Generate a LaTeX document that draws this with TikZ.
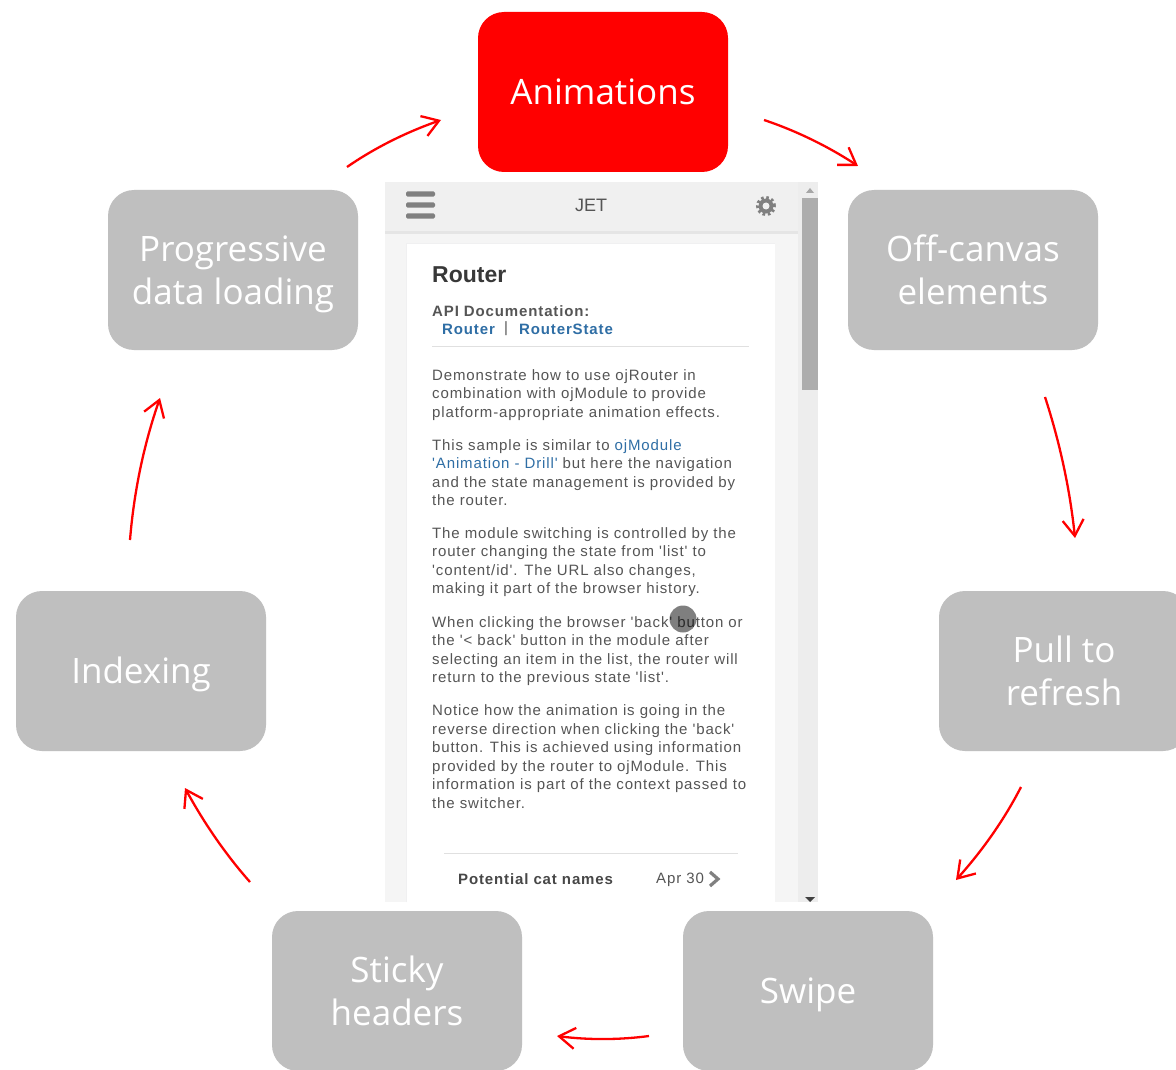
\documentclass[tikz,border=0pt]{standalone}
\usepackage{fontspec}
\setmainfont{Open Sans}
\newfontfamily\shotfont[LetterSpace=5.8]{Liberation Sans}
\newfontfamily\plainshot{Liberation Sans}
\usetikzlibrary{arrows.meta}
\definecolor{boxgrey}{HTML}{BFBFBF}
\definecolor{shottext}{HTML}{555555}
\definecolor{shotlink}{HTML}{2F6EA5}
\newcommand{\padtop}{\rule{0pt}{37pt}}
\newcommand{\padbot}{\rule[-11pt]{0pt}{11pt}}
\tikzset{
  x=1pt,y=-1pt,
  stagebase/.style={rounded corners=26pt,fill=boxgrey,text=white,minimum width=250pt,minimum height=160pt,inner sep=0pt,align=center,font=\fontsize{35}{43.5}\selectfont},
  stage/.style={stagebase,execute at begin node={\rule[-10pt]{0pt}{45pt}},execute at end node={\rule[-10pt]{0pt}{45pt}}},
  stagetwo/.style={stagebase},
  stagered/.style={stage,fill=red},
  flow/.style={draw=red,line width=2.3pt,-{Straight Barb[length=16pt,width=21pt,line width=2.3pt]}},
  para/.style={anchor=north west,inner sep=0pt,align=left,text=shottext,font=\shotfont\fontsize{15}{18.6}\selectfont},
  paralabel/.style={anchor=west,inner sep=0pt,text=shottext,font=\shotfont\fontsize{15}{18}\selectfont},
  shotlabel/.style={paralabel,font=\shotfont\bfseries\fontsize{15}{18}\selectfont},
  shotlinkt/.style={shotlabel,text=shotlink}
}
\begin{document}
\begin{tikzpicture}
\clip (0,0) rectangle (1176,1070);
\fill[white] (0,0) rectangle (1176,1070);
% screenshot
\fill[black!4] (385,182) rectangle (818,902);
\fill[black!6] (385,182) rectangle (798,231);
\fill[black!10] (385,231) rectangle (798,234);
\fill[white] (406,243) rectangle (775,902);
\draw[blue!10!black!6] (406,902) -- (406,243) -- (775,243);
\fill[black!7] (798,182) rectangle (818,902);
\fill[black!32] (802,198) rectangle (818,390);
\fill[black!35] (806,193) -- (810,188) -- (814,193) -- cycle;
\fill[black!75] (805,897) -- (815,897) -- (810,902) -- cycle;
\foreach \yy in {194,205,216} \fill[black!50,rounded corners=1.5pt] (406,\yy-2.7) rectangle (435,\yy+2.7);
\fill[black!50] (766,206) circle (7.5pt);
\draw[black!50,line width=3pt,dash pattern=on 2.6pt off 2.6pt] (766,206) circle (8.5pt);
\fill[black!6] (766,206) circle (3.5pt);
\node[paralabel,anchor=center,font=\plainshot\fontsize{18}{20}\selectfont] (jet) at (591,205) {JET};
\node[shotlabel,font=\plainshot\bfseries\fontsize{23}{24}\selectfont,text=black!78] (routertitle) at (432,275) {Router};
\node[shotlabel] (apidoc) at (432,311) {API Documentation:};
\node[shotlinkt] (routerlink) at (442,329) {Router};
\node[paralabel] (sep) at (504,329) {|};
\node[shotlinkt] (statelink) at (519,329) {RouterState};
\draw[black!12,line width=1.5pt] (432,346.5) -- (749,346.5);
\node[para] (p1) at (432,369) {Demonstrate how to use ojRouter in\\combination with ojModule to provide\\platform-appropriate animation effects.};
\node[para] (p2) at (432,439) {This sample is similar to {\color{shotlink}ojModule}\\{\color{shotlink}'Animation - Drill'} but here the navigation\\and the state management is provided by\\the router.};
\node[para] (p3) at (432,527) {The module switching is controlled by the\\router changing the state from 'list' to\\'content/id'. The URL also changes,\\making it part of the browser history.};
\node[para] (p4) at (432,616) {When clicking the browser 'back' button or\\the '< back' button in the module after\\selecting an item in the list, the router will\\return to the previous state 'list'.};
\node[para] (p5) at (432,704.5) {Notice how the animation is going in the\\reverse direction when clicking the 'back'\\button. This is achieved using information\\provided by the router to ojModule. This\\information is part of the context passed to\\the switcher.};
\fill[black,opacity=.5] (683,619) circle (13.5pt);
\draw[black!12,line width=1.5pt] (444,853.5) -- (738,853.5);
\node[shotlabel,text=black!72] (cat) at (458,879) {Potential cat names};
\node[paralabel] (apr) at (656,880) {Apr 30};
\draw[black!50,line width=3.2pt] (710,872) -- (718,879) -- (710,886);
% stages
\node[stagered] (anim) at (603,92) {Animations};
\node[stagetwo] (off) at (973,270) {\padtop Off-canvas\\elements\padbot};
\node[stagetwo] (pull) at (1064,671) {\padtop Pull to\\refresh\padbot};
\node[stage] (swipe) at (808,991) {Swipe};
\node[stagetwo] (sticky) at (397,991) {\padtop Sticky\\headers\padbot};
\node[stage] (index) at (141,671) {Indexing};
\node[stagetwo] (prog) at (233,270) {\padtop Progressive\\data loading\padbot};
% free ends of the connectors
\coordinate (a1) at (764,120); \coordinate (b1) at (858,166);
\coordinate (a2) at (1045,397); \coordinate (b2) at (1075,538);
\coordinate (a3) at (1021,787); \coordinate (b3) at (956,880);
\coordinate (a4) at (649,1036); \coordinate (b4) at (557,1036);
\coordinate (a5) at (250,882); \coordinate (b5) at (185,788);
\coordinate (a6) at (130,540); \coordinate (b6) at (160,398);
\coordinate (a7) at (347,167); \coordinate (b7) at (441,120);
\draw[flow] (a1) .. controls (797,131) and (829,147) .. (b1);
\draw[flow] (a2) .. controls (1060,443) and (1070,490) .. (b2);
\draw[flow] (a3) .. controls (1003,822) and (981,852) .. (b3);
\draw[flow] (a4) .. controls (619,1040) and (588,1040) .. (b4);
\draw[flow] (a5) .. controls (226,855) and (204,823) .. (b5);
\draw[flow] (a6) .. controls (134,491) and (144,444) .. (b6);
\draw[flow] (a7) .. controls (376,147) and (407,132) .. (b7);
\end{tikzpicture}
\end{document}
